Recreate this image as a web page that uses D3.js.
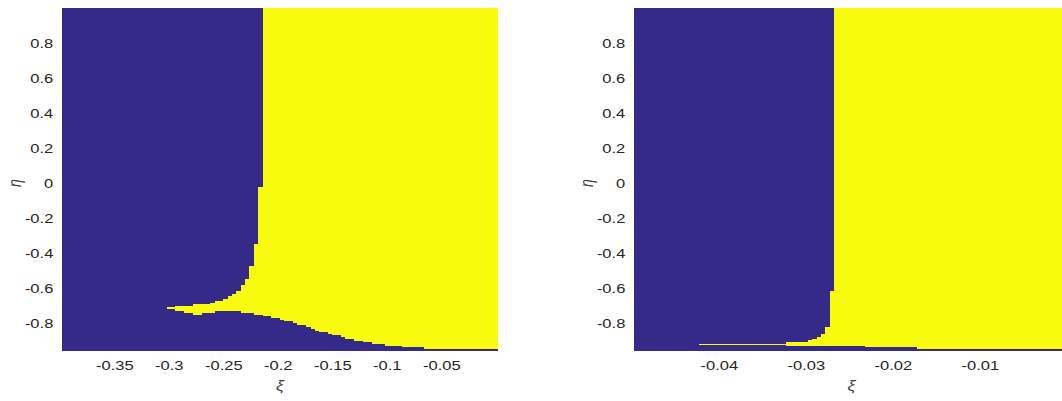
<!DOCTYPE html>
<html>
<head>
<meta charset="utf-8">
<script src="https://cdn.jsdelivr.net/npm/d3@7"></script>
<style>
  body { margin: 0; background: white; }
  text { font-family: "Liberation Sans", Arial, sans-serif; }
</style>
</head>
<body>
<div id="main_content"></div>
<script>
var width = 1062, height = 401;
var stretch = 1.27; // the figure text is drawn wider than tall

// basin data: runs of columns in xi, yellow between lo and hi (eta), blue elsewhere
var leftFrom = [-0.302, -0.294, -0.290, -0.286, -0.278, -0.270, -0.262, -0.258, -0.250, -0.246,
  -0.242, -0.238, -0.234, -0.230, -0.226, -0.222, -0.218, -0.214, -0.206, -0.198,
  -0.194, -0.186, -0.182, -0.174, -0.170, -0.166, -0.162, -0.154, -0.150, -0.142,
  -0.138, -0.130, -0.122, -0.114, -0.102, -0.086, -0.066];
var leftTo = [-0.294, -0.290, -0.286, -0.278, -0.270, -0.262, -0.258, -0.250, -0.246, -0.242,
  -0.238, -0.234, -0.230, -0.226, -0.222, -0.218, -0.214, -0.206, -0.198, -0.194,
  -0.186, -0.182, -0.174, -0.170, -0.166, -0.162, -0.154, -0.150, -0.142, -0.138,
  -0.130, -0.122, -0.114, -0.102, -0.086, -0.066, 0.002];
var leftLo = [-0.72, -0.73, -0.73, -0.745, -0.755, -0.745, -0.745, -0.73, -0.73, -0.73,
  -0.73, -0.73, -0.745, -0.745, -0.745, -0.755, -0.755, -0.76, -0.77, -0.785,
  -0.79, -0.80, -0.81, -0.825, -0.835, -0.845, -0.85, -0.865, -0.87, -0.88,
  -0.89, -0.90, -0.91, -0.92, -0.93, -0.935, -0.95];
var leftHi = [-0.71, -0.705, -0.70, -0.70, -0.69, -0.69, -0.685, -0.675, -0.66, -0.645,
  -0.635, -0.615, -0.585, -0.55, -0.475, -0.35, -0.02, 1, 1, 1,
  1, 1, 1, 1, 1, 1, 1, 1, 1, 1,
  1, 1, 1, 1, 1, 1, 1];

var rightFrom = [-0.04225, -0.03225, -0.02975, -0.02925, -0.02875, -0.02825, -0.02775, -0.02725, -0.02675, -0.02325, -0.01725];
var rightTo = [-0.03225, -0.02975, -0.02925, -0.02875, -0.02825, -0.02775, -0.02725, -0.02675, -0.02325, -0.01725, 0.00025];
var rightLo = [-0.926, -0.93, -0.93, -0.93, -0.93, -0.93, -0.93, -0.93, -0.93, -0.935, -0.95];
var rightHi = [-0.918, -0.91, -0.895, -0.89, -0.88, -0.865, -0.825, -0.615, 1, 1, 1];

var leftXTicks = [-0.35, -0.3, -0.25, -0.2, -0.15, -0.1, -0.05];
var rightXTicks = [-0.04, -0.03, -0.02, -0.01];
var yTicks = [-0.8, -0.6, -0.4, -0.2, 0, 0.2, 0.4, 0.6, 0.8];

var blue = '#352a87', yellow = '#f9fb0e';

var svg = d3.select('#main_content').append('svg')
  .attr('width', width)
  .attr('height', height)
  .style('display', 'block');

function zip(from, to, lo, hi) {
  return from.map(function(f, i) {
    return {x0: f, x1: to[i], lo: lo[i], hi: hi[i]};
  });
}

function panel(opt) {
  var x = d3.scaleLinear().domain(opt.xDomain).range(opt.xRange);
  var y = d3.scaleLinear().domain([-0.96, 1.0]).range([351, 8]);

  var g = svg.append('g');
  g.append('rect')
    .attr('x', opt.xRange[0])
    .attr('y', y(1.0))
    .attr('width', opt.xRange[1] - opt.xRange[0])
    .attr('height', y(-0.96) - y(1.0))
    .attr('fill', blue);

  g.selectAll('rect.cell')
    .data(opt.runs)
    .enter().append('rect')
    .attr('class', 'cell')
    .attr('shape-rendering', 'crispEdges')
    .attr('x', function(d) { return x(d.x0); })
    .attr('width', function(d) { return x(d.x1) - x(d.x0); })
    .attr('y', function(d) { return y(d.hi); })
    .attr('height', function(d) { return y(d.lo) - y(d.hi); })
    .attr('fill', yellow);

  var xAxis = g.append('g')
    .attr('transform', 'translate(0,351)')
    .call(d3.axisBottom(x).tickValues(opt.xTicks).tickSize(0).tickPadding(10)
      .tickFormat(function(d) { return String(d); }));
  xAxis.select('.domain').remove();
  xAxis.selectAll('text').attr('font-size', 13).attr('fill', '#262626')
    .attr('font-family', '"Liberation Sans", Arial, sans-serif')
    .attr('transform', 'scale(' + stretch + ',1)');

  var yAxis = g.append('g')
    .attr('transform', 'translate(' + opt.xRange[0] + ',0)')
    .call(d3.axisLeft(y).tickValues(yTicks).tickSize(0)
      .tickFormat(function(d) { return String(d); }));
  yAxis.select('.domain').remove();
  yAxis.selectAll('text').attr('font-size', 13).attr('fill', '#262626')
    .attr('font-family', '"Liberation Sans", Arial, sans-serif')
    .attr('x', -8.7 / stretch)
    .attr('transform', 'scale(' + stretch + ',1)');

  g.append('text')
    .attr('transform', 'translate(' + ((opt.xRange[0] + opt.xRange[1]) / 2) + ',391) scale(' + stretch + ',1)')
    .attr('text-anchor', 'middle')
    .attr('font-size', 14)
    .attr('font-style', 'italic')
    .attr('fill', '#404040')
    .text('ξ');

  g.append('text')
    .attr('transform', 'translate(' + (opt.xRange[0] - 41) + ',' + y(0) + ') rotate(-90) scale(1,' + stretch + ')')
    .attr('text-anchor', 'middle')
    .attr('font-size', 14)
    .attr('font-style', 'italic')
    .attr('fill', '#404040')
    .text('η');
}

panel({
  xDomain: [-0.398, 0.002],
  xRange: [62, 498],
  xTicks: leftXTicks,
  runs: zip(leftFrom, leftTo, leftLo, leftHi)
});

panel({
  xDomain: [-0.04975, 0.00025],
  xRange: [634, 1069],
  xTicks: rightXTicks,
  runs: zip(rightFrom, rightTo, rightLo, rightHi)
});
</script>
</body>
</html>
